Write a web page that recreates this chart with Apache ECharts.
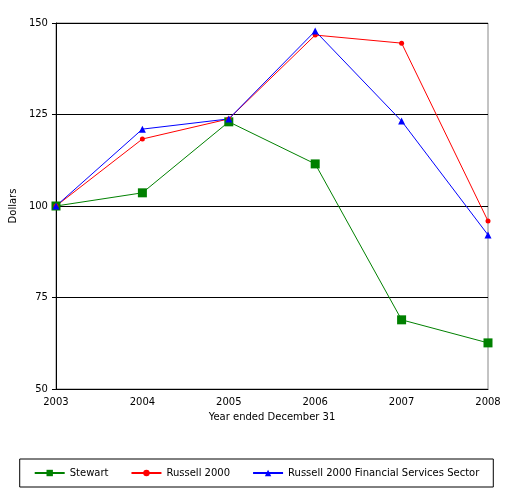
<!DOCTYPE html>
<html><head><meta charset="utf-8">
<script src="https://cdn.jsdelivr.net/npm/echarts@6/dist/echarts.min.js"></script>
<style>body{margin:0;background:#fff}#c{width:513px;height:495px}</style>
</head><body><div id="c"></div>
<script>
const years = ['2003', '2004', '2005', '2006', '2007', '2008']
const stewart = [100, 103.6, 123, 111.5, 68.9, 62.6]
const russell = [100, 118.3, 123.8, 146.7, 144.5, 95.9]
const financial = [100, 121, 123.8, 147.8, 123.2, 92.1]

const chart = echarts.init(document.getElementById('c'))
const font = 'Verdana, DejaVu Sans, sans-serif'
function line(name, data, color, symbol, size) {
  return { name, type: 'line', data, symbol, symbolSize: size, animation: false,
    lineStyle: { color, width: 1 }, itemStyle: { color } }
}
chart.setOption({
  textStyle: { fontFamily: font, fontSize: 10, color: '#000' },
  grid: { left: 55, right: 25, top: 23, bottom: 106, show: true, borderColor: '#888', borderWidth: 1 },
  xAxis: { type: 'category', data: years, boundaryGap: false, name: 'Year ended December 31',
    nameLocation: 'middle', nameGap: 23, nameTextStyle: { fontSize: 10, color: '#000' },
    axisLine: { lineStyle: { color: '#000' } }, axisTick: { show: false },
    axisLabel: { color: '#000', fontSize: 10 }, splitLine: { show: false } },
  yAxis: { type: 'value', min: 50, max: 150, interval: 25, name: 'Dollars',
    nameLocation: 'middle', nameGap: 34, nameTextStyle: { fontSize: 10, color: '#000' },
    axisLine: { show: true, lineStyle: { color: '#000' } }, axisTick: { show: true, length: 4, lineStyle: { color: '#000' } },
    axisLabel: { color: '#000', fontSize: 10 }, splitLine: { lineStyle: { color: '#000' } } },
  legend: { bottom: 8, left: 'center', itemGap: 22, itemWidth: 30, itemHeight: 8,
    borderColor: '#000', borderWidth: 1, padding: [9, 14], textStyle: { fontSize: 10, color: '#000' } },
  series: [
    line('Stewart', stewart, '#008000', 'rect', 9),
    line('Russell 2000', russell, '#ff0000', 'circle', 5),
    line('Russell 2000 Financial Services Sector', financial, '#0000ff', 'triangle', 7)
  ]
})
</script></body></html>
